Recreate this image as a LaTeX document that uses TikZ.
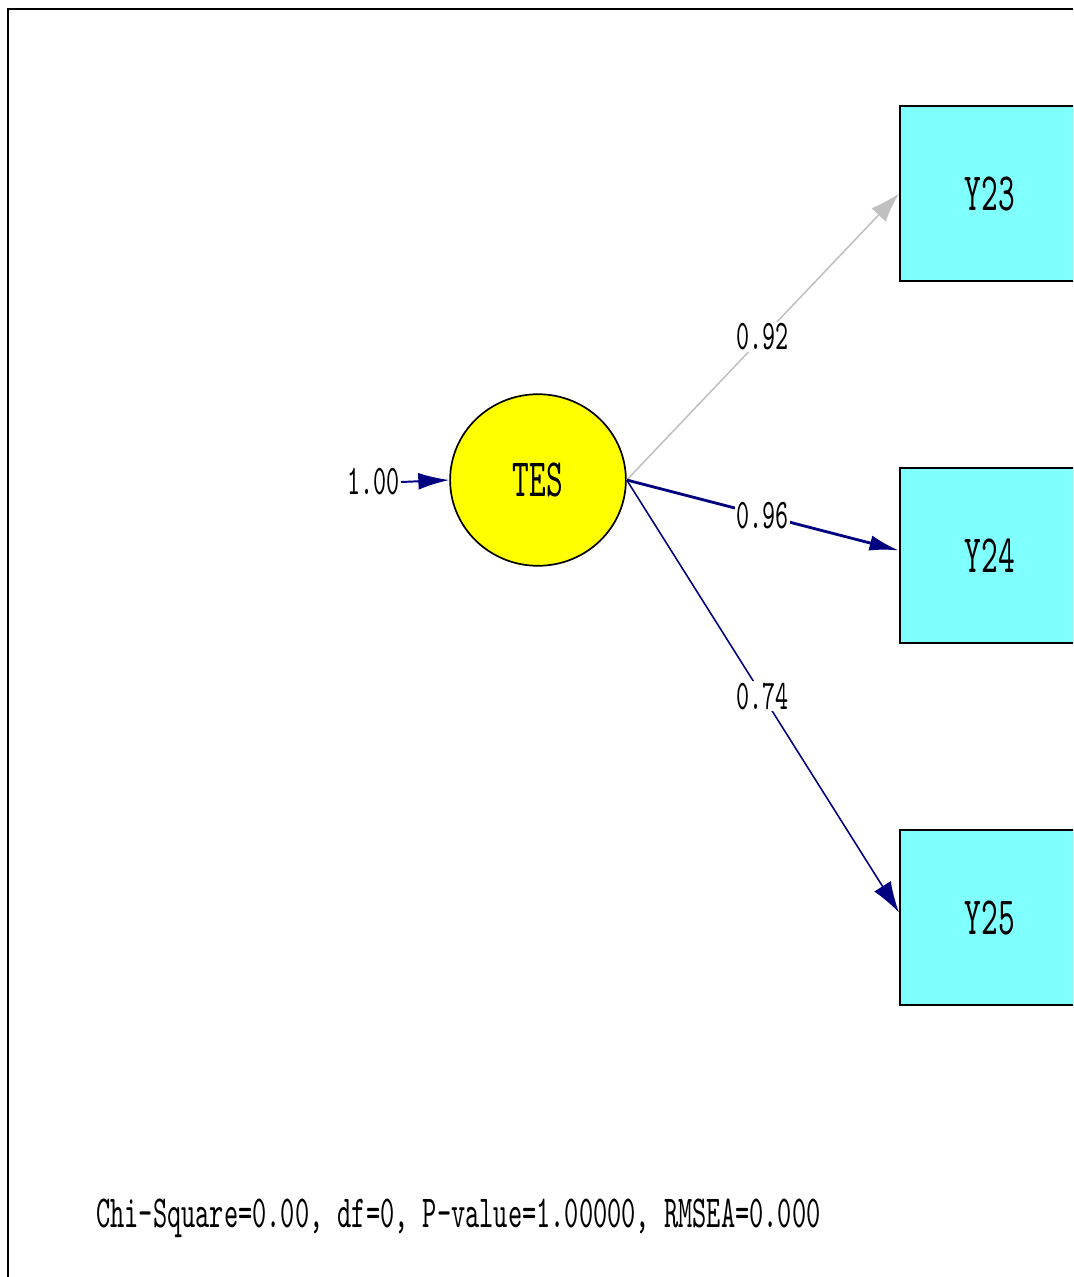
\documentclass[tikz,border=0pt]{standalone}
\usepackage{fontspec}
\usepackage{tikz}
\usetikzlibrary{shapes, calc, arrows.meta}

\newfontfamily\lisrelfont[Extension=.otf, FakeStretch=0.59]{lmmono10-regular}
\definecolor{pathnavy}{HTML}{000080}
\definecolor{pathgrey}{HTML}{C0C0C0}
\definecolor{boxcyan}{HTML}{80FFFF}
\definecolor{latentyellow}{HTML}{FFFF00}

\tikzset{
	latent/.style={draw, ellipse, fill=latentyellow, line width=1.2pt, minimum width=125pt, minimum height=122pt,
		inner sep=0pt, font=\lisrelfont\fontsize{38.4}{40}\selectfont},
	observed/.style={draw, rectangle, fill=boxcyan, line width=1.4pt, minimum width=128pt, minimum height=124.4pt,
		inner sep=0pt, font=\lisrelfont\fontsize{38.4}{40}\selectfont},
	estimate/.style={fill=white, inner sep=1pt, font=\lisrelfont\fontsize{30}{32}\selectfont},
}

\begin{document}
\begin{tikzpicture}[x=0.025cm, y=-0.025cm]
	\useasboundingbox (0,0) rectangle (1073,1277);
	\clip (0,0) rectangle (1073,1277);

	\draw[line width=1.4pt] (8,1277) -- (8,9) -- (1073,9);

	\node[latent] (tes) at (538,480) {TES};

	\node[observed] (y23) at (990,193.5) {Y23};
	\node[observed] (y24) at (990,555.5) {Y24};
	\node[observed] (y25) at (990,917.5) {Y25};

	\node[estimate, anchor=east] (fixed) at (401,482) {1.00};

	\draw[->, >={Latex[length=22pt, width=12pt]}, line width=1.4pt, pathnavy] (fixed.east) -- (tes.west);
	\draw[->, >={Latex[length=21pt, width=14pt]}, line width=1.1pt, pathgrey] (tes.east) -- (y23.west)
		node[estimate, midway, text=black] {0.92};
	\draw[->, >={Latex[length=21pt, width=11pt]}, line width=2pt, pathnavy] (tes.east) -- ($(y24.west)+(0,-5)$)
		node[estimate, midway, text=black] {0.96};
	\draw[->, >={Latex[length=22pt, width=14pt]}, line width=1.1pt, pathnavy] (tes.east) -- ($(y25.west)+(0,-5)$)
		node[estimate, midway, text=black] {0.74};

	\node[anchor=west, inner sep=0pt, font=\lisrelfont\fontsize{32.6}{34}\selectfont] (fit) at (96,1218)
		{Chi-Square=0.00, df=0, P-value=1.00000, RMSEA=0.000};
\end{tikzpicture}
\end{document}
